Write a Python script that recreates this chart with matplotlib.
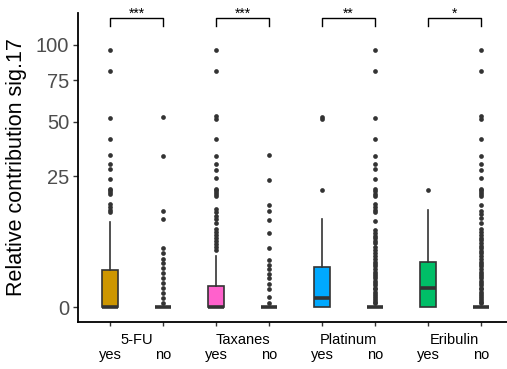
import numpy as np
import matplotlib.pyplot as plt
from matplotlib.transforms import blended_transform_factory

plt.rcParams['font.family'] = ['Liberation Sans', 'DejaVu Sans']

drugs = ['5-FU', 'Taxanes', 'Platinum', 'Eribulin']
groups = ['yes', 'no']
stars = ['***', '***', '**', '*']
fills = ['#CD9600', '#F8766D', '#FF61CC', '#C77CFF',
         '#00A9FF', '#00BFC4', '#00BE67', '#7CAE00']

# box statistics, one entry per box (yes/no for each drug), original units
q1 = [0, 0, 0, 0, 0, 0, 0, 0]
med = [0, 0, 0, 0, 0.11, 0, 0.51, 0]
q3 = [2.0, 0, 0.64, 0, 2.37, 0, 2.99, 0]
whis_lo = [0, 0, 0, 0, 0, 0, 0, 0]
whis_hi = [10.6, 0, 3.83, 0, 11.3, 0, 13.7, 0]

fu_yes = [96.2, 81.0, 51.9, 41.3, 33.5, 29.9, 27.8, 23.9, 20.4, 19.8, 19.2,
          18.5, 15.5, 14.6, 13.8, 13.2]
fu_no = [52.7, 33.1, 13.4, 11.2, 5.0, 4.3, 3.3, 2.8, 2.2, 1.65, 1.2, 0.82,
         0.51, 0.27, 0.11, 0.03]
tax_yes = [96.2, 81.0, 53.1, 51.3, 41.3, 33.1, 29.8, 27.3, 24.2, 20.4, 19.8,
           19.2, 18.5, 17.9, 14.1, 13.2, 12.2, 11.4, 10.4, 8.8, 8.2, 7.6,
           7.0, 6.4, 5.8, 5.2, 4.7]
tax_no = [33.5, 23.5, 15.2, 13.4, 11.0, 8.0, 5.0, 3.2, 2.6, 2.1, 1.6, 1.2,
          0.8, 0.45, 0.15, 0.02]
plat_yes = [52.4, 51.5, 19.8]
plat_no = [96.2, 81.0, 51.9, 41.3, 33.3, 29.7, 27.6, 23.9, 20.4, 19.5, 18.6,
           17.9, 15.5, 14.6, 13.6, 13.2, 10.8, 8.6, 8.0, 7.4, 6.9, 6.3, 5.9,
           5.3, 4.8, 4.2, 3.8, 3.4, 3.0, 2.7, 2.4, 2.1, 1.8, 1.6, 1.4, 1.2,
           1.0, 0.85, 0.7, 0.55, 0.45, 0.35, 0.25, 0.18, 0.12, 0.07, 0.04, 0.02]
eri_yes = [19.8]
eri_no = [96.2, 81.0, 53.1, 51.3, 41.3, 33.3, 29.8, 27.3, 24.2, 20.4, 20.0,
          19.4, 18.6, 17.9, 15.2, 13.4, 12.5, 11.5, 10.4, 8.8, 8.2, 7.6, 7.0,
          6.5, 6.0, 5.5, 5.0, 4.6, 4.2, 3.8, 3.4, 3.0, 2.7, 2.4, 2.1, 1.8,
          1.6, 1.4, 1.2, 1.0, 0.85, 0.7, 0.55, 0.45, 0.35, 0.25, 0.18, 0.12,
          0.07, 0.04, 0.02]
outliers = [fu_yes, fu_no, tax_yes, tax_no, plat_yes, plat_no, eri_yes, eri_no]

y_ticks = [0, 25, 50, 75, 100]

# sqrt scale on the y axis
tr = np.sqrt

stats = []
for i in range(len(q1)):
    stats.append(dict(q1=tr(q1[i]), med=tr(med[i]), q3=tr(q3[i]),
                      whislo=tr(whis_lo[i]), whishi=tr(whis_hi[i]),
                      fliers=tr(np.array(outliers[i]))))

fig = plt.figure(figsize=(5.07, 3.69), dpi=100)
ax = fig.add_axes([0.1542, 0.1274, 0.857, 0.8374])

pos = np.arange(len(stats))
edge = '#333333'
bp = ax.bxp(stats, positions=pos, widths=0.31, patch_artist=True,
            showcaps=False,
            boxprops=dict(edgecolor=edge, linewidth=1.2),
            whiskerprops=dict(color=edge, linewidth=1.2),
            medianprops=dict(color=edge, linewidth=2.6, solid_capstyle='butt'),
            flierprops=dict(marker='o', markersize=3.4, markerfacecolor=edge,
                            markeredgecolor='none'))
for patch, c in zip(bp['boxes'], fills):
    patch.set_facecolor(c)

ax.set_xlim(-0.6, 7.6)
ax.set_ylim(-0.57, 11.22)

ax.set_yticks(tr(np.array(y_ticks)))
ax.set_yticklabels([str(t) for t in y_ticks])
ax.tick_params(axis='y', labelsize=14.5, labelcolor='#4D4D4D', length=3.6,
               width=1.0, pad=3, color='#333333')

ax.set_xticks(pos)
ax.set_xticklabels(groups * len(drugs))
ax.tick_params(axis='x', labelsize=10.5, labelcolor='black', length=3,
               width=1.0, pad=16, color='#333333')

trans = blended_transform_factory(ax.transData, ax.transAxes)
for i, d in enumerate(drugs):
    ax.text(2 * i + 0.5, -0.071, d, transform=trans, ha='center',
            va='baseline', fontsize=10.5, color='black')

# significance brackets
top = 11.03
leg = 10.73
for i, s in enumerate(stars):
    x0, x1 = 2 * i, 2 * i + 1
    ax.plot([x0, x0, x1, x1], [leg, top, top, leg], color='black',
            linewidth=1.0, clip_on=False)
    ax.text((x0 + x1) / 2, top + 0.02, s, ha='center', va='baseline',
            fontsize=10, color='black', clip_on=False)

ax.set_ylabel('Relative contribution sig.17', fontsize=15.5, color='black')
ax.yaxis.set_label_coords(-0.118, 0.5)

for side in ['top', 'right']:
    ax.spines[side].set_visible(False)
for side in ['left', 'bottom']:
    ax.spines[side].set_linewidth(1.3)
    ax.spines[side].set_color('black')

fig.savefig('out.png', dpi=100)
